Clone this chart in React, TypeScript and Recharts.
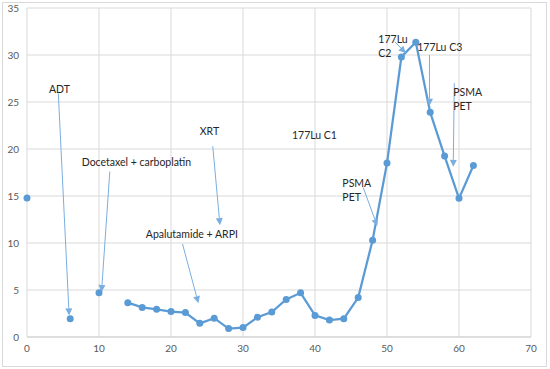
import { LineChart, Line, XAxis, YAxis, CartesianGrid, ReferenceLine, ReferenceDot } from 'recharts';

// PSA over time (weeks); null = gap in the line
const weeks = [0, 3, 6, 8, 10, 12, 14, 16, 18, 20, 22, 24, 26, 28, 30, 32, 34, 36, 38, 40, 42, 44, 46, 48, 50, 52, 54, 56, 58, 60, 62];
const psa = [14.8, null, 1.95, null, 4.7, null, 3.65, 3.15, 2.95, 2.7, 2.6, 1.45, 2.0, 0.9, 1.0, 2.1, 2.65, 4.0, 4.7, 2.3, 1.8, 1.95, 4.2, 10.3, 18.5, 29.8, 31.35, 23.9, 19.25, 14.75, 18.25];

const xTicks = [0, 10, 20, 30, 40, 50, 60, 70];
const yTicks = [0, 5, 10, 15, 20, 25, 30, 35];

// annotation text (left edge x, middle y of first line, in data units)
const noteText = ['ADT', 'Docetaxel + carboplatin', 'XRT', 'Apalutamide + ARPI', '177Lu C1', 'PSMA\nPET', '177Lu\nC2', '177Lu C3', 'PSMA\nPET'];
const noteX = [3.05, 7.6, 24.0, 16.5, 36.8, 43.8, 48.8, 54.2, 59.2];
const noteY = [26.4, 18.6, 21.9, 10.95, 21.5, 16.35, 31.7, 30.9, 26.1];

// arrows: from -> to, in data units
const arrowFrom = [[4.35, 25.9], [11.5, 17.6], [25.8, 20.3], [21.6, 9.9], [46.7, 15.9], [51.1, 31.4], [55.9, 30.0], [59.35, 27.0]];
const arrowTo = [[5.85, 2.3], [10.35, 4.8], [26.8, 11.9], [23.8, 3.6], [48.65, 11.8], [52.6, 30.2], [55.9, 24.6], [59.2, 18.1]];

const data = weeks.map((w, i) => ({ week: w, psa: psa[i] }));

const ARROW = '#7aaee0';
const BLUE = '#5b9bd5';
const FONT = 'Lato, "Open Sans", sans-serif';

const Arrow = (props: any) => {
  const { x1, y1, x2, y2 } = props;
  if ([x1, y1, x2, y2].some((v) => typeof v !== 'number')) return null;
  const dx = x2 - x1;
  const dy = y2 - y1;
  const len = Math.sqrt(dx * dx + dy * dy) || 1;
  const ux = dx / len;
  const uy = dy / len;
  const hl = 7;
  const hw = 3.5;
  const bx = x2 - ux * hl;
  const by = y2 - uy * hl;
  const pts = `${x2},${y2} ${bx - uy * hw},${by + ux * hw} ${bx + uy * hw},${by - ux * hw}`;
  return (
    <g>
      <line x1={x1} y1={y1} x2={bx} y2={by} stroke={ARROW} strokeWidth={1} />
      <polygon points={pts} fill={ARROW} />
    </g>
  );
};

const makeNote = (text: string) => (props: any) => {
  const { cx, cy } = props;
  if (typeof cx !== 'number' || typeof cy !== 'number') return null;
  return (
    <text x={cx} y={cy} fill="#262626" fontSize={10.5} fontFamily={FONT} dominantBaseline="central">
      {text.split('\n').map((line, i) => (
        <tspan key={i} x={cx} dy={i === 0 ? 0 : 14}>{line}</tspan>
      ))}
    </text>
  );
};

export default function App() {
  return (
    <div style={{ position: 'absolute', left: 0, top: 0, width: 550, height: 369, background: '#fff' }}>
      <div style={{ position: 'absolute', left: 2, top: 2, width: 543, height: 363, border: '1px solid #d9d9d9' }} />
      <LineChart width={550} height={369} data={data} margin={{ top: 8, right: 19, left: 0, bottom: 2 }}>
        <CartesianGrid stroke="#d9d9d9" />
        <XAxis
          dataKey="week"
          type="number"
          domain={[0, 70]}
          ticks={xTicks}
          tickLine={false}
          axisLine={{ stroke: '#d0d0d0' }}
          tick={{ fontSize: 10, fill: '#595959', fontFamily: FONT }}
        />
        <YAxis
          domain={[0, 35]}
          ticks={yTicks}
          width={27}
          tickLine={false}
          axisLine={false}
          tick={{ fontSize: 10, fill: '#595959', fontFamily: FONT }}
        />
        <Line
          dataKey="psa"
          stroke={BLUE}
          strokeWidth={2.25}
          dot={{ r: 3.5, fill: BLUE, stroke: BLUE, strokeWidth: 0 }}
          isAnimationActive={false}
        />
        {arrowFrom.map((f, i) => (
          <ReferenceLine
            key={'a' + i}
            segment={[{ x: f[0], y: f[1] }, { x: arrowTo[i][0], y: arrowTo[i][1] }]}
            shape={Arrow}
            ifOverflow="visible"
          />
        ))}
        {noteText.map((t, i) => (
          <ReferenceDot key={'n' + i} x={noteX[i]} y={noteY[i]} r={0} shape={makeNote(t)} ifOverflow="visible" />
        ))}
      </LineChart>
    </div>
  );
}
